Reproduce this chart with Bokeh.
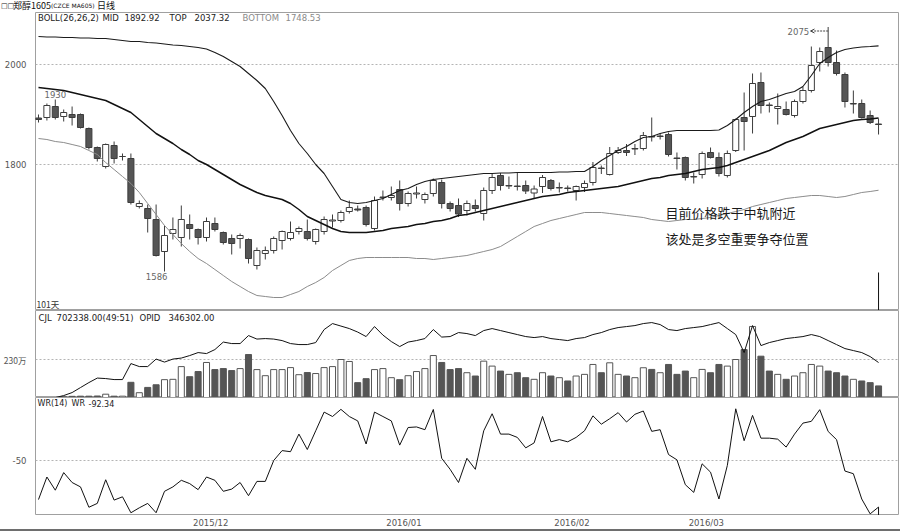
from bokeh.plotting import figure
from bokeh.layouts import column
from bokeh.models import Range1d, FixedTicker, Label, Arrow, OpenHead, Spacer, Div
from bokeh.embed import file_html
from bokeh.resources import INLINE

# ---------------- data ----------------
open_ = [1893, 1894, 1916, 1896, 1900, 1900, 1872, 1834, 1796, 1838,
         1816, 1812, 1716, 1712, 1690, 1626, 1662, 1654, 1680, 1670,
         1654, 1682, 1664, 1652, 1652, 1650, 1598, 1622, 1628, 1648,
         1652, 1666, 1666, 1646, 1666, 1687, 1688, 1706, 1711, 1714,
         1672, 1734, 1734, 1750, 1722, 1741, 1730, 1742, 1764, 1722,
         1718, 1708, 1718, 1702, 1748, 1778, 1757, 1757, 1758, 1743,
         1756, 1768, 1753, 1753, 1748, 1754, 1764, 1793, 1780, 1824,
         1828, 1831, 1832, 1856, 1856, 1860, 1813, 1814, 1775, 1780,
         1824, 1814, 1778, 1828, 1894, 1896, 1964, 1919, 1912, 1910,
         1898, 1926, 1948, 2004, 2034, 2004, 1980, 1921, 1922, 1898,
         1881]
high = [1900, 1922, 1930, 1910, 1916, 1902, 1874, 1836, 1842, 1846,
        1822, 1822, 1728, 1720, 1720, 1678, 1694, 1718, 1700, 1672,
        1694, 1694, 1666, 1660, 1662, 1652, 1634, 1636, 1656, 1668,
        1686, 1676, 1690, 1672, 1696, 1700, 1708, 1728, 1718, 1718,
        1736, 1748, 1756, 1768, 1746, 1756, 1744, 1772, 1770, 1726,
        1732, 1728, 1730, 1754, 1781, 1783, 1776, 1784, 1768, 1758,
        1779, 1771, 1764, 1758, 1758, 1768, 1805, 1798, 1835, 1835,
        1841, 1841, 1865, 1894, 1862, 1864, 1824, 1816, 1784, 1826,
        1834, 1824, 1828, 1892, 1944, 1982, 1984, 1924, 1942, 1926,
        1930, 1955, 2036, 2034, 2075, 2028, 1984, 1948, 1930, 1908,
        1892]
low = [1884, 1888, 1890, 1886, 1878, 1872, 1830, 1806, 1792, 1802,
       1808, 1720, 1712, 1664, 1616, 1586, 1650, 1636, 1650, 1640,
       1646, 1666, 1640, 1620, 1632, 1602, 1590, 1610, 1622, 1630,
       1648, 1660, 1648, 1640, 1660, 1674, 1684, 1702, 1706, 1676,
       1668, 1728, 1728, 1708, 1716, 1732, 1722, 1736, 1712, 1706,
       1695, 1698, 1706, 1688, 1741, 1748, 1751, 1748, 1741, 1731,
       1743, 1748, 1744, 1746, 1728, 1745, 1758, 1781, 1778, 1821,
       1817, 1819, 1828, 1846, 1850, 1816, 1790, 1768, 1762, 1772,
       1812, 1776, 1774, 1825, 1828, 1862, 1902, 1904, 1880, 1898,
       1894, 1922, 1944, 1986, 1996, 1978, 1914, 1902, 1892, 1881,
       1860]
close_ = [1890, 1918, 1894, 1904, 1894, 1874, 1834, 1812, 1840, 1812,
          1816, 1724, 1722, 1692, 1618, 1658, 1670, 1690, 1672, 1654,
          1686, 1670, 1644, 1642, 1658, 1612, 1628, 1628, 1652, 1666,
          1664, 1672, 1652, 1670, 1690, 1689, 1704, 1714, 1709, 1680,
          1728, 1735, 1738, 1722, 1742, 1743, 1740, 1768, 1722, 1712,
          1701, 1722, 1712, 1748, 1774, 1758, 1758, 1756, 1747, 1751,
          1774, 1752, 1754, 1752, 1756, 1762, 1794, 1792, 1822, 1828,
          1824, 1832, 1858, 1855, 1857, 1820, 1812, 1774, 1776, 1822,
          1814, 1782, 1822, 1890, 1886, 1962, 1918, 1918, 1916, 1900,
          1926, 1948, 1998, 2026, 2004, 1982, 1926, 1922, 1894, 1884,
          1880]

boll_top = [2056, 2055, 2055, 2054, 2054, 2053, 2053, 2052, 2052, 2050,
            2048, 2046, 2046, 2044, 2043, 2041, 2039, 2038, 2036, 2034,
            2031, 2024, 2016, 2006, 1996, 1982, 1968, 1952, 1926, 1898,
            1868, 1842, 1822, 1800, 1782, 1756, 1730, 1724, 1722, 1724,
            1728, 1732, 1740, 1748, 1752, 1760, 1766, 1770, 1772, 1774,
            1776, 1778, 1780, 1782, 1782, 1783, 1783, 1784, 1784, 1784,
            1784, 1784, 1785, 1785, 1786, 1786, 1796, 1808, 1818, 1828,
            1836, 1846, 1854, 1856, 1862, 1866, 1868, 1868, 1868, 1868,
            1868, 1869, 1878, 1890, 1904, 1916, 1926, 1930, 1936, 1942,
            1946, 1956, 1978, 2002, 2014, 2024, 2030, 2033, 2035, 2036,
            2037.32]
boll_mid = [1954, 1952, 1950, 1948, 1944, 1940, 1936, 1932, 1928, 1920,
            1912, 1904, 1890, 1876, 1862, 1852, 1842, 1830, 1820, 1808,
            1800, 1790, 1780, 1770, 1760, 1752, 1744, 1738, 1734, 1730,
            1722, 1710, 1696, 1688, 1680, 1672, 1666, 1664, 1664, 1664,
            1666, 1668, 1672, 1674, 1676, 1680, 1682, 1686, 1688, 1692,
            1698, 1700, 1704, 1708, 1712, 1716, 1720, 1724, 1728, 1732,
            1736, 1738, 1740, 1744, 1746, 1748, 1750, 1752, 1754, 1756,
            1760, 1764, 1768, 1772, 1774, 1778, 1780, 1782, 1786, 1790,
            1792, 1794, 1798, 1804, 1810, 1816, 1822, 1828, 1836, 1844,
            1850, 1856, 1864, 1872, 1876, 1880, 1884, 1888, 1890, 1891,
            1892.92]
boll_bot = [1852, 1850, 1846, 1844, 1840, 1836, 1828, 1820, 1804, 1790,
            1776, 1762, 1744, 1722, 1700, 1678, 1660, 1642, 1626, 1612,
            1602, 1590, 1578, 1566, 1556, 1546, 1538, 1536, 1534, 1534,
            1540, 1546, 1556, 1564, 1574, 1588, 1598, 1608, 1612, 1614,
            1614, 1614, 1614, 1614, 1614, 1612, 1612, 1610, 1612, 1614,
            1616, 1618, 1622, 1626, 1630, 1636, 1646, 1656, 1666, 1676,
            1682, 1688, 1692, 1696, 1700, 1704, 1704, 1704, 1702, 1700,
            1698, 1696, 1694, 1690, 1688, 1686, 1688, 1690, 1690, 1692,
            1694, 1698, 1702, 1706, 1710, 1716, 1720, 1724, 1728, 1732,
            1734, 1736, 1738, 1738, 1736, 1734, 1736, 1740, 1744, 1746,
            1748.53]

# volume in 万 (10k lots)
volume = [0, 0, 0, 5, 7, 8, 8, 9, 20, 8,
          8, 92, 29, 61, 77, 108, 110, 187, 126, 157,
          212, 169, 175, 163, 175, 260, 169, 132, 169, 169,
          181, 138, 151, 145, 181, 187, 230, 218, 90, 114,
          169, 175, 120, 108, 132, 157, 175, 254, 212, 169,
          175, 150, 130, 220, 190, 160, 140, 150, 120, 110,
          150, 130, 120, 100, 130, 140, 200, 150, 210, 140,
          130, 120, 180, 170, 150, 200, 140, 160, 120, 170,
          150, 200, 190, 230, 290, 430, 250, 160, 140, 110,
          130, 150, 200, 190, 160, 150, 130, 110, 100, 90,
          70.2338]
# open interest in 万
nan = float("nan")
open_interest = [nan, nan, 20.6, 21.4, 22.6, 24.6, 26.6, 28.4, 28.2, 27.8,
                 27.8, 34.2, 33.0, 33.0, 36.0, 34.8, 36.0, 36.4, 37.4, 38.6,
                 38.2, 39.8, 42.8, 42.2, 42.2, 45.4, 44.0, 44.2, 44.0, 43.4,
                 42.2, 41.8, 41.8, 42.6, 47.8, 50.2, 49.2, 48.2, 46.8, 45.0,
                 49.0, 45.6, 43.0, 41.0, 42.8, 43.4, 44.2, 47.8, 44.8, 45.0,
                 46.6, 46.2, 45.4, 47.4, 48.2, 47.4, 46.6, 45.8, 45.0, 44.6,
                 45.0, 44.2, 43.8, 43.4, 44.2, 44.6, 45.8, 46.6, 47.8, 48.6,
                 49.0, 49.4, 50.2, 50.6, 49.8, 47.8, 47.4, 48.2, 48.6, 49.0,
                 49.8, 50.6, 48.2, 45.8, 38.6, 49.4, 41.4, 42.6, 43.4, 44.2,
                 44.6, 45.0, 45.8, 45.0, 43.4, 41.8, 40.2, 39.4, 38.6, 37.0,
                 34.6302]
wr = [-85.5, -65, -77, -61, -70, -74, -92.5, -89, -67.5, -86,
      -83, -97.5, -93, -89, -97.5, -78, -74, -68, -71, -76.5,
      -65, -68, -78, -76, -70, -82, -69, -69, -50, -41,
      -42, -26, -40, -23, -6, -10, -3.5, -10, -14, -35,
      -6, -10, -14, -36, -20, -19.5, -22, -3.6, -48, -58,
      -70, -48, -58, -23, -7.5, -26, -26, -29, -38.5, -34,
      -10, -33, -31, -33, -29, -23, -9.4, -17, -12, -6.5,
      -15, -8, -5, -23.5, -22, -44.6, -49.4, -72, -79, -53,
      -60.6, -85, -54.5, -3, -32, -9, -29.7, -29.7, -30.6, -37.8,
      -26, -16, -14.4, -3.8, -23.6, -31, -59.6, -62, -85, -98.5,
      -92.34]

month_labels = ["2015/12", "2016/01", "2016/02", "2016/03"]
month_first_idx = [19, 42, 62, 78]

price_ticks = [1800, 2000]
volume_tick = 230
wr_tick = -50

title_main = "郑醇1605"
title_code = "(CZCE MA605)"
title_tail = "日线"
note1 = "目前价格跌于中轨附近"
note2 = "该处是多空重要争夺位置"

# ---------------- helpers ----------------
N = len(close_)
idx = list(range(N))
body_top = [max(o, c) for o, c in zip(open_, close_)]
body_bot = [min(o, c) for o, c in zip(open_, close_)]
up = [c >= o for o, c in zip(open_, close_)]
DARK = "#555555"
EDGE = "#3c3c3c"
fills = ["white" if u else DARK for u in up]

FONT = "DejaVu Sans"
CJK = "Noto Sans CJK SC"
BAR_PX = 8.42          # horizontal pixels per trading day
FIRST_PX = 36          # window x of the first bar
XR = Range1d((33 - FIRST_PX) / BAR_PX, (898 - FIRST_PX) / BAR_PX)


def base_fig(h, y_range):
    p = figure(width=900, height=h, x_range=XR, y_range=y_range,
               output_backend="svg", toolbar_location=None,
               x_axis_location=None,
               min_border_left=33, min_border_right=2,
               min_border_top=0, min_border_bottom=0)
    p.outline_line_color = "#a0a0a0"
    p.outline_line_width = 1
    p.background_fill_color = "white"
    p.border_fill_color = "white"
    for g in p.xgrid:
        g.visible = False
    p.yaxis.axis_line_color = None
    p.yaxis.major_tick_line_color = None
    p.yaxis.minor_tick_line_color = None
    p.yaxis.major_label_text_font = FONT
    p.yaxis.major_label_text_font_size = "8.5px"
    p.yaxis.major_label_text_color = "#555555"
    p.yaxis.major_label_standoff = 3
    p.ygrid.grid_line_color = "#b4b4b4"
    p.ygrid.grid_line_dash = "2 2"
    return p


def lab(p, x, y, text, size="8.5px", color="#222222", font=FONT,
        align="left", baseline="middle"):
    p.add_layout(Label(x=x, y=y, x_units="screen", y_units="screen", text=text,
                       text_font=font, text_font_size=size, text_color=color,
                       text_align=align, text_baseline=baseline))


# ---------------- title row (HTML, window y 0..12) ----------------
def span(left, text, size, font):
    return (f'<span style="position:absolute;left:{left}px;top:0;line-height:12px;'
            f'font-size:{size};font-family:\'{font}\';color:#111;white-space:nowrap">{text}</span>')


title_html = ('<div style="position:relative;width:900px;height:12px;overflow:hidden">'
              + span(1, "□□", "7px", FONT)
              + span(13, title_main, "9px", CJK)
              + span(51, title_code, "6px", FONT)
              + span(97, title_tail, "9px", CJK)
              + '</div>')
title_div = Div(text=title_html, width=900, height=12, margin=(0, 0, 0, 0))

# ---------------- price panel (window y 12..310) ----------------
p1 = base_fig(298, Range1d(1508, 2104))
p1.yaxis.ticker = FixedTicker(ticks=price_ticks)
p1.ygrid.ticker = FixedTicker(ticks=price_ticks)

p1.segment(x0=idx, y0=low, x1=idx, y1=high, color=EDGE, line_width=1)
p1.vbar(x=idx, width=0.72, top=body_top, bottom=body_bot,
        fill_color=fills, line_color=EDGE, line_width=1)
p1.line(idx, boll_bot, color="#8c8c8c", line_width=1)
p1.line(idx, boll_top, color="#1a1a1a", line_width=1.1)
p1.line(idx, boll_mid, color="#111111", line_width=1.5)

i_hi1 = max(range(0, 20), key=lambda i: high[i])
i_lo = min(range(N), key=lambda i: low[i])
i_hi = max(range(N), key=lambda i: high[i])
p1.add_layout(Label(x=i_hi1, y=high[i_hi1], y_offset=2, text=str(high[i_hi1]),
                    text_font=FONT, text_font_size="8.5px", text_color="#666666",
                    text_align="center", text_baseline="bottom"))
p1.add_layout(Label(x=i_lo, y=low[i_lo], x_offset=3, y_offset=-1, text=str(low[i_lo]),
                    text_font=FONT, text_font_size="8.5px", text_color="#666666",
                    text_align="right", text_baseline="top"))
p1.add_layout(Arrow(end=OpenHead(size=4, line_color="#444444", line_width=1),
                    x_start=i_hi, y_start=high[i_hi] - 8,
                    x_end=i_hi - 2.1, y_end=high[i_hi] - 8,
                    line_color="#444444", line_width=1, line_dash="2 1"))
p1.add_layout(Label(x=i_hi - 2.25, y=high[i_hi] - 8, text=str(high[i_hi]),
                    text_font=FONT, text_font_size="8.5px", text_color="#666666",
                    text_align="right", text_baseline="middle"))
# cursor mark at the last bar
p1.segment(x0=[N - 1], y0=[1584], x1=[N - 1], y1=[1508], color="#111111", line_width=1)

lab(p1, 2.5, 293, "BOLL(26,26,2)")
lab(p1, 67, 293, "MID")
lab(p1, 89, 293, f"{boll_mid[-1]:.2f}")
lab(p1, 134, 293, "TOP")
lab(p1, 159, 293, f"{boll_top[-1]:.2f}")
lab(p1, 207, 293, "BOTTOM", color="#8a8a8a")
lab(p1, 250, 293, f"{boll_bot[-1]:.2f}", color="#8a8a8a")
lab(p1, 1, 7, f"{N}天", size="8.5px", color="#333333", font=CJK)
lab(p1, 630, 98, note1, size="13px", color="#1a1a1a", font=CJK)
lab(p1, 630, 72, note2, size="13px", color="#1a1a1a", font=CJK)

# ---------------- volume / open interest panel (window y 310..397) ----------------
vol_per_px = volume_tick / 38.0
p2 = base_fig(87, Range1d(0, 87 * vol_per_px))
p2.yaxis.ticker = FixedTicker(ticks=[volume_tick])
p2.ygrid.ticker = FixedTicker(ticks=[volume_tick])
p2.yaxis.major_label_overrides = {volume_tick: f"{volume_tick}万"}
p2.yaxis.major_label_text_font = CJK
oi_base = open_interest[-1] - 35 * 0.4
p2.extra_y_ranges = {"oi": Range1d(oi_base, oi_base + 87 * 0.4)}
p2.vbar(x=idx, width=0.72, top=volume, bottom=0, fill_color=fills,
        line_color="#555555", line_width=1)
p2.line(idx, open_interest, y_range_name="oi", color="#111111", line_width=1)
lab(p2, 3, 80, "CJL")
lab(p2, 21, 80, f"{volume[-1] * 10000:.2f}(49:51)")
lab(p2, 104, 80, "OPID")
lab(p2, 133, 80, f"{open_interest[-1] * 10000:.2f}")

# ---------------- WR panel (window y 397..515) ----------------
p3 = base_fig(118, Range1d(-100, -100 + 118 / 1.1))
p3.yaxis.ticker = FixedTicker(ticks=[wr_tick])
p3.ygrid.ticker = FixedTicker(ticks=[wr_tick])
p3.yaxis.major_label_overrides = {wr_tick: str(wr_tick)}
p3.line(idx, wr, color="#111111", line_width=1)
p3.segment(x0=[N - 1], y0=[wr[-1]], x1=[N - 1], y1=[-100], color="#111111", line_width=1)
lab(p3, 2, 112, "WR(14)", size="8px")
lab(p3, 36, 112, "WR", size="8px")
lab(p3, 53, 112, f"{wr[-1]:.2f}", size="8px")

# ---------------- date strip (window y 515..529) ----------------
px = figure(width=900, height=14, x_range=XR, y_range=Range1d(0, 14),
            output_backend="svg", toolbar_location=None,
            x_axis_location=None, y_axis_location=None,
            min_border_left=33, min_border_right=2,
            min_border_top=0, min_border_bottom=0)
px.outline_line_color = None
px.grid.visible = False
for i0, s in zip(month_first_idx, month_labels):
    px.add_layout(Label(x=i0 + 1.5, y=7, text=s, text_font=FONT,
                        text_font_size="8.5px", text_color="#555555",
                        text_align="center", text_baseline="middle"))

bottom_bar = Spacer(width=900, height=2, styles={"background-color": "#6e6e6e"})

layout = column(title_div, p1, p2, p3, px, bottom_bar, spacing=0)
open("out.html", "w").write(file_html(layout, INLINE))
